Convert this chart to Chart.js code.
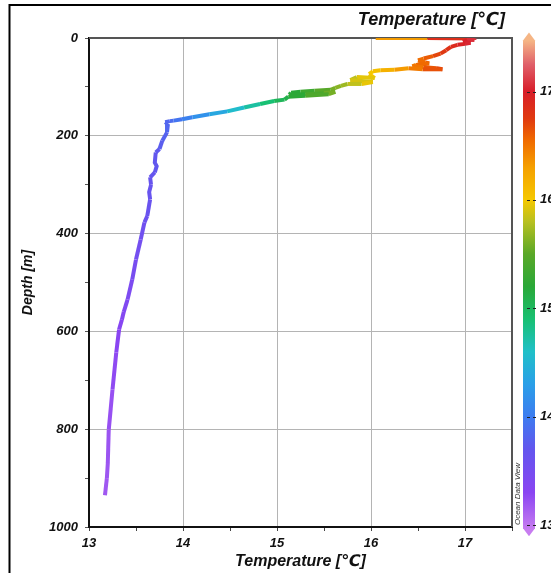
<!DOCTYPE html>
<html>
<head>
<meta charset="utf-8">
<script src="https://cdn.jsdelivr.net/npm/chart.js@4.4.1/dist/chart.umd.min.js"></script>
<style>
  body { margin: 0; background: #fff; }
</style>
</head>
<body>
<canvas id="myChart" width="551" height="573"></canvas>
<script>
// CTD cast: temperature (°C) against depth (m), surface first
const temperature = [
    16.05, 16.6, 17.1, 17.1, 17.02, 16.98, 17.06, 17.0, 16.92, 16.85,
    16.8, 16.74, 16.66, 16.56, 16.5, 16.58, 16.62, 16.48, 16.44, 16.56,
    16.7, 16.76, 16.55, 16.4, 16.25, 16.1, 16.02, 15.98, 16.04, 15.85,
    15.78, 16.02, 15.9, 15.75, 15.68, 15.62, 15.57, 15.4, 15.25, 15.15,
    15.13, 15.3, 15.5, 15.62, 15.55, 15.3, 15.12, 15.08, 14.97, 14.82,
    14.65, 14.47, 14.28, 14.1, 13.99, 13.9, 13.86, 13.81, 13.84, 13.83,
    13.78, 13.75, 13.71, 13.7, 13.72, 13.7, 13.65, 13.66, 13.64, 13.65,
    13.62, 13.59, 13.55, 13.5, 13.46, 13.41, 13.37, 13.35, 13.32, 13.29,
    13.25, 13.21, 13.2, 13.19, 13.17
];
const depth = [
    0, 0, 1, 4, 4, 8, 10, 12, 14, 18,
    25, 32, 37, 42, 46, 50, 52, 55, 58, 60,
    62, 64, 64, 62, 65, 66, 68, 74, 82, 80,
    86, 90, 94, 94, 98, 102, 106, 108, 110, 112,
    116, 115, 113, 110, 115, 118, 120, 126, 129, 135,
    142, 150, 156, 162, 166, 169, 170, 172, 176, 193,
    210, 227, 234, 255, 262, 275, 285, 300, 315, 330,
    364, 377, 412, 453, 494, 535, 560, 576, 596, 643,
    719, 801, 869, 900, 935
];
const colorbarTicks = [13, 14, 15, 16, 17];

// ODV-like rainbow palette (value, colour)
const palette = [
    [12.96, '#c77cf0'], [13.3, '#8a45f2'], [13.7, '#6356ee'], [14.0, '#3d7cf0'],
    [14.3, '#2a9fe8'], [14.6, '#20c0c8'], [14.9, '#18c072'], [15.2, '#2aa838'],
    [15.5, '#5aa828'], [15.8, '#b8c020'], [16.0, '#f5c800'], [16.3, '#f5a000'],
    [16.55, '#f06a00'], [16.75, '#e03a10'], [17.0, '#d81e2a'], [17.25, '#e0606a'],
    [17.47, '#f5b585']
];
const FONT = "'Liberation Sans', 'DejaVu Sans', Arial, sans-serif";
const cbMin = 12.982, cbMax = 17.494;

function hexRgb(h) {
    return [parseInt(h.slice(1, 3), 16), parseInt(h.slice(3, 5), 16), parseInt(h.slice(5, 7), 16)];
}
function tempColor(t) {
    if (t <= palette[0][0]) return palette[0][1];
    for (let i = 1; i < palette.length; i++) {
        if (t <= palette[i][0]) {
            const a = hexRgb(palette[i - 1][1]), b = hexRgb(palette[i][1]);
            const f = (t - palette[i - 1][0]) / (palette[i][0] - palette[i - 1][0]);
            const c = a.map((v, k) => Math.round(v + (b[k] - v) * f));
            return 'rgb(' + c.join(',') + ')';
        }
    }
    return palette[palette.length - 1][1];
}

const points = temperature.map((t, i) => ({ x: t, y: depth[i] }));

const boldItalic = (size) => ({ family: FONT, size: size, weight: 'bold', style: 'italic', lineHeight: 1.2 });

// frame, plot border, header and the colour bar
const decorPlugin = {
    id: 'decor',
    beforeDatasetsDraw(chart) {
        const ctx = chart.ctx;
        const area = chart.chartArea;
        ctx.save();
        ctx.strokeStyle = '#555';
        ctx.lineWidth = 2;
        ctx.beginPath();
        ctx.moveTo(area.left, area.top);
        ctx.lineTo(area.right, area.top);
        ctx.lineTo(area.right, area.bottom);
        ctx.stroke();
        ctx.restore();
    },
    afterDraw(chart) {
        const ctx = chart.ctx;
        const cb = chart.scales.cb;
        ctx.save();

        ctx.strokeStyle = '#000';
        ctx.lineWidth = 2;
        ctx.beginPath();
        ctx.moveTo(9.5, 573);
        ctx.lineTo(9.5, 5);
        ctx.lineTo(551, 5);
        ctx.stroke();

        // colour bar header
        ctx.font = "italic bold 18px " + FONT;
        ctx.fillStyle = '#111';
        ctx.textAlign = 'right';
        ctx.textBaseline = 'middle';
        ctx.fillText('Temperature [℃]', 505, 20);

        const x0 = 523, x1 = 535, xm = (x0 + x1) / 2;
        const yTop = cb.getPixelForValue(17.47), yBot = cb.getPixelForValue(12.97);
        const tipTop = yTop - 8, tipBot = yBot + 8;
        const grad = ctx.createLinearGradient(0, tipBot, 0, tipTop);
        palette.forEach(s => {
            const p = cb.getPixelForValue(s[0]);
            const f = Math.min(1, Math.max(0, (tipBot - p) / (tipBot - tipTop)));
            grad.addColorStop(f, s[1]);
        });
        ctx.fillStyle = grad;
        ctx.beginPath();
        ctx.moveTo(x0, yTop);
        ctx.lineTo(xm, tipTop);
        ctx.lineTo(x1, yTop);
        ctx.lineTo(x1, yBot);
        ctx.lineTo(xm, tipBot);
        ctx.lineTo(x0, yBot);
        ctx.closePath();
        ctx.fill();

        ctx.strokeStyle = '#222';
        ctx.lineWidth = 1;
        ctx.setLineDash([3, 3]);
        colorbarTicks.forEach(v => {
            const y = Math.round(cb.getPixelForValue(v)) + 0.5;
            ctx.beginPath();
            ctx.moveTo(527, y);
            ctx.lineTo(539, y);
            ctx.stroke();
        });
        ctx.setLineDash([]);

        ctx.translate(518, 494);
        ctx.rotate(-Math.PI / 2);
        ctx.font = "italic 8px " + FONT;
        ctx.fillStyle = '#333';
        ctx.textAlign = 'center';
        ctx.textBaseline = 'middle';
        ctx.fillText('Ocean Data View', 0, 0);
        ctx.restore();
    }
};

const config = {
    type: 'scatter',
    data: {
        datasets: [{
            data: points,
            showLine: true,
            borderWidth: 4,
            borderColor: '#7048e8',
            pointRadius: 0,
            tension: 0,
            segment: {
                borderColor: c => tempColor((c.p0.parsed.x + c.p1.parsed.x) / 2)
            }
        }]
    },
    options: {
        responsive: false,
        animation: false,
        layout: { padding: { top: 38 } },
        plugins: {
            legend: { display: false },
            tooltip: { enabled: false },
            title: { display: false }
        },
        scales: {
            x: {
                type: 'linear',
                position: 'bottom',
                min: 13,
                max: 17.5,
                afterFit: s => { s.height = 46; },
                ticks: {
                    stepSize: 0.5,
                    autoSkip: false,
                    maxRotation: 0,
                    padding: 5,
                    color: '#111',
                    font: boldItalic(13),
                    callback: v => Number.isInteger(v) ? v : ''
                },
                grid: {
                    color: c => (Number.isInteger(c.tick.value) && c.tick.value > 13) ? '#b4b4b4' : 'rgba(0,0,0,0)',
                    tickColor: '#444',
                    tickLength: 4
                },
                border: { color: '#111', width: 2 },
                title: {
                    display: true,
                    text: 'Temperature [℃]',
                    color: '#111',
                    font: boldItalic(16),
                    padding: { top: 0, bottom: 2 }
                }
            },
            y: {
                type: 'linear',
                position: 'left',
                min: 0,
                max: 1000,
                reverse: true,
                afterFit: s => { s.width = 89; },
                ticks: {
                    stepSize: 100,
                    autoSkip: false,
                    padding: 7,
                    color: '#111',
                    font: boldItalic(13),
                    callback: v => v % 200 === 0 ? v : ''
                },
                grid: {
                    color: c => (c.tick.value % 200 === 0 && c.tick.value > 0 && c.tick.value < 1000) ? '#b4b4b4' : 'rgba(0,0,0,0)',
                    tickColor: '#555',
                    tickLength: 4
                },
                border: { color: '#111', width: 2 },
                title: {
                    display: true,
                    text: 'Depth [m]',
                    color: '#111',
                    font: boldItalic(14),
                    padding: { top: 20, bottom: 0 }
                }
            },
            cb: {
                type: 'linear',
                position: 'right',
                min: cbMin,
                max: cbMax,
                afterBuildTicks: s => { s.ticks = colorbarTicks.map(v => ({ value: v })); },
                afterFit: s => { s.width = 39; },
                ticks: {
                    padding: 28,
                    color: '#111',
                    font: boldItalic(13)
                },
                grid: { display: false, drawTicks: false },
                border: { display: false }
            }
        }
    },
    plugins: [decorPlugin]
};

const myChart = new Chart(document.getElementById('myChart'), config);
</script>
</body>
</html>
